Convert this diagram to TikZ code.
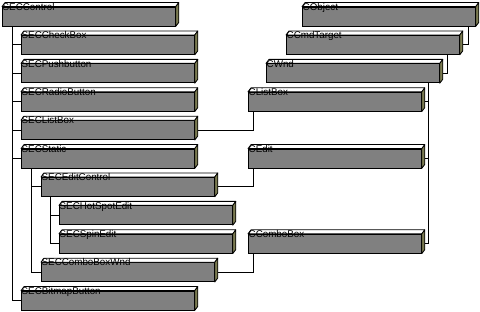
\documentclass[tikz,border=0pt]{standalone}
\usepackage{fontspec}
\setmainfont{Liberation Sans}
\usetikzlibrary{calc}
\definecolor{BarGray}{RGB}{128,128,128}
\definecolor{BarSide}{RGB}{124,124,82}
\tikzset{
  bar/.style={draw,fill=BarGray,minimum width=173pt,minimum height=19pt,anchor=north west,inner sep=0pt,line width=0.8pt},
  face/.style={draw,line width=0.8pt,line join=round},
  lbl/.style={anchor=north west,inner sep=0pt,font=\fontsize{9.8}{11}\selectfont},
  link/.style={draw,line width=0.8pt}
}
\newcommand\classbox[4]{%
  \node[bar] (#1) at (#2,#3) {};
  \filldraw[face,fill=white] (#1.north west) -- ++(3,-4) -- ($(#1.north east)+(3,-4)$) -- (#1.north east) -- cycle;
  \filldraw[face,fill=BarSide] (#1.north east) -- ++(3,-4) -- ($(#1.south east)+(3,-4)$) -- (#1.south east) -- cycle;
  \node[lbl] (#1-t) at ($(#1.north west)+(0.5,-3.5)$) {#4};
}
\begin{document}
\begin{tikzpicture}[x=1pt,y=-1pt]
\useasboundingbox (0,0) rectangle (480,312);
\classbox{ctl}{2}{6.6}{SECControl}
\classbox{chk}{21}{35}{SECCheckBox}
\classbox{psh}{21}{63.4}{SECPushbutton}
\classbox{rad}{21}{91.8}{SECRadioButton}
\classbox{slb}{21}{120.2}{SECListBox}
\classbox{sta}{21}{148.6}{SECStatic}
\classbox{edc}{41}{177}{SECEditControl}
\classbox{hot}{59}{205.4}{SECHotSpotEdit}
\classbox{spn}{59}{233.8}{SECSpinEdit}
\classbox{cbw}{41}{262.2}{SECComboBoxWnd}
\classbox{bmp}{21}{290.6}{SECBitmapButton}
\classbox{obj}{302}{6.6}{CObject}
\classbox{cmd}{286}{35}{CCmdTarget}
\classbox{wnd}{266}{63.4}{CWnd}
\classbox{clb}{248}{91.8}{CListBox}
\classbox{edt}{248}{148.6}{CEdit}
\classbox{cbo}{248}{233.8}{CComboBox}
\foreach \c in {chk,psh,rad,slb,sta,bmp} \draw[link] (ctl.south west) ++(10,0) |- (\c.west);
\foreach \c in {edc,cbw} \draw[link] (sta.south west) ++(10,0) |- (\c.west);
\foreach \c in {hot,spn} \draw[link] (edc.south west) ++(9,0) |- (\c.west);
\draw[link] (obj.south east) ++(-7,0) |- ([xshift=3pt]cmd.east);
\draw[link] (cmd.south east) ++(-12,0) |- ([xshift=3pt]wnd.east);
\foreach \c in {clb,edt,cbo} \draw[link] (wnd.south east) ++(-11,0) |- ([xshift=3pt]\c.east);
\draw[link] (clb.south west) ++(5,0) |- ([xshift=3pt]slb.east);
\draw[link] (edt.south west) ++(5,0) |- ([xshift=3pt]edc.east);
\draw[link] (cbo.south west) ++(5,0) |- ([xshift=3pt]cbw.east);
\end{tikzpicture}
\end{document}
